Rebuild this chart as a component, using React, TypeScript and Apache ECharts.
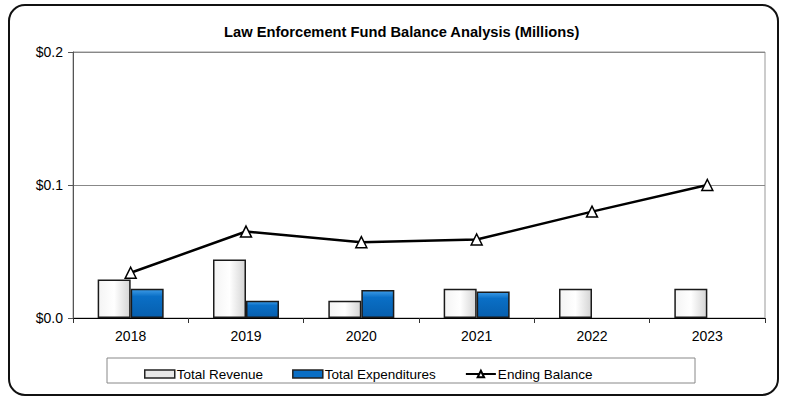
import React, { useEffect, useRef } from "react";
import * as echarts from "echarts";

const years = ["2018", "2019", "2020", "2021", "2022", "2023"];
const totalRevenue = [0.029, 0.044, 0.013, 0.022, 0.022, 0.022];
const totalExpenditures = [0.022, 0.013, 0.021, 0.02, null, null];
const endingBalance = [0.034, 0.065, 0.057, 0.059, 0.08, 0.1];
const yTicks = ["$0.0", "$0.1", "$0.2"];

const FONT = "'Liberation Sans', Arial, sans-serif";

export default function App() {
  const ref = useRef<HTMLDivElement>(null);
  useEffect(() => {
    document.body.style.margin = "0";
    const chart = echarts.init(ref.current!, null, { renderer: "svg" });
    const revGrad = new echarts.graphic.LinearGradient(0, 0, 1, 0, [
      { offset: 0, color: "#f4f4f4" },
      { offset: 0.5, color: "#ffffff" },
      { offset: 1, color: "#d4d4d4" },
    ]);
    const expGrad = new echarts.graphic.LinearGradient(0, 0, 0, 1, [
      { offset: 0, color: "#3d9be6" },
      { offset: 0.25, color: "#0a6fc6" },
      { offset: 1, color: "#075fae" },
    ]);
    chart.setOption({
      animation: false,
      backgroundColor: "#ffffff",
      textStyle: { fontFamily: FONT },
      title: {
        text: "Law Enforcement Fund Balance Analysis (Millions)",
        left: 219,
        top: 19,
        textStyle: { fontSize: 14.7, fontWeight: "bold", color: "#000", fontFamily: FONT },
      },
      graphic: [
        {
          type: "rect",
          shape: { x: 9, y: 5, width: 769, height: 390, r: 16 },
          style: { fill: "none", stroke: "#111", lineWidth: 2 },
          silent: true,
        },
        {
          type: "rect",
          shape: { x: 107, y: 358, width: 588, height: 25 },
          style: { fill: "none", stroke: "#888", lineWidth: 1 },
          silent: true,
        },
      ],
      grid: {
        left: 73,
        right: 22,
        top: 52,
        bottom: 82,
        show: true,
        borderColor: "#999",
        borderWidth: 1,
      },
      legend: {
        left: 139,
        top: 362,
        itemWidth: 30,
        itemHeight: 8,
        itemGap: 29,
        textStyle: { fontSize: 13.5, color: "#000", fontFamily: FONT, padding: [0, 0, 0, -3] },
        data: [
          { name: "Total Revenue", icon: "rect", itemStyle: { color: "#e8e8e8", borderColor: "#222", borderWidth: 1.5 } },
          { name: "Total Expenditures", icon: "rect", itemStyle: { color: "#0a6fc6", borderColor: "#222", borderWidth: 1.5 } },
          { name: "Ending Balance" },
        ],
      },
      xAxis: {
        type: "category",
        data: years,
        axisLine: { lineStyle: { color: "#000", width: 1 } },
        axisTick: { show: true, length: 5, lineStyle: { color: "#333" } },
        axisLabel: { fontSize: 14, color: "#000", margin: 11, fontFamily: FONT },
      },
      yAxis: {
        type: "value",
        min: 0,
        max: 0.2,
        interval: 0.1,
        axisLine: { show: true, lineStyle: { color: "#555" } },
        axisTick: { show: true, length: 5, lineStyle: { color: "#555" } },
        axisLabel: {
          fontSize: 14,
          color: "#000",
          margin: 10,
          fontFamily: FONT,
          formatter: (v: number) => yTicks[Math.round(v / 0.1)],
        },
        splitLine: { show: true, lineStyle: { color: "#888", width: 1 } },
      },
      series: [
        {
          name: "Total Revenue",
          type: "bar",
          data: totalRevenue,
          barWidth: 33,
          barGap: "0%",
          itemStyle: { color: revGrad, borderColor: "#1a1a1a", borderWidth: 1.5 },
        },
        {
          name: "Total Expenditures",
          type: "bar",
          data: totalExpenditures,
          barWidth: 33,
          barGap: "0%",
          itemStyle: { color: expGrad, borderColor: "#1a1a1a", borderWidth: 1.5 },
        },
        {
          name: "Ending Balance",
          type: "line",
          data: endingBalance,
          symbol: "triangle",
          symbolSize: 11,
          lineStyle: { color: "#000", width: 2.5 },
          itemStyle: { color: "#fff", borderColor: "#000", borderWidth: 1.5 },
          z: 5,
        },
      ],
    });
    return () => chart.dispose();
  }, []);
  return <div ref={ref} style={{ width: 787, height: 400 }} />;
}
